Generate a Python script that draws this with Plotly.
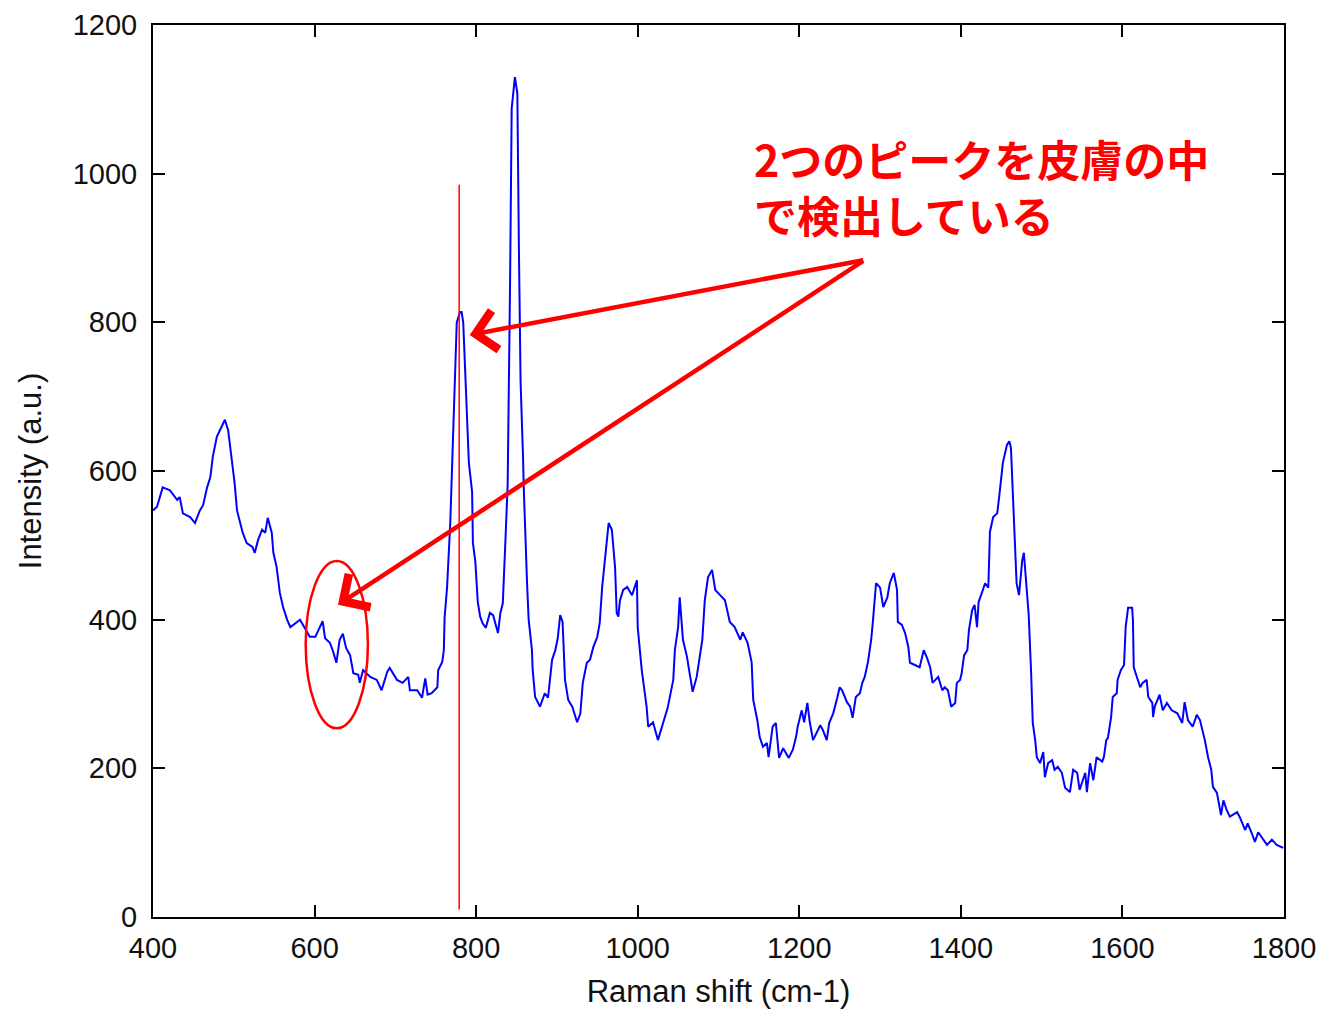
import plotly.graph_objects as go

# Raman spectrum
raman_shift = [400, 405, 412, 421, 430, 433, 437, 446, 452, 458, 462, 467, 471, 474, 479, 485, 489, 493, 498, 501,
               504, 508, 511, 516, 523, 526, 530, 535, 539, 542, 547, 549, 553, 557, 561, 566, 570, 582, 594, 601,
               607, 610, 613, 619, 623, 627, 631, 635, 639, 644, 648, 654, 656, 660, 669, 677, 683, 690, 693, 702,
               709, 716, 718, 727, 733, 737, 740, 745, 752, 753, 758, 760, 761, 764, 768, 770, 771, 774, 776, 780,
               782, 784, 787, 791, 795, 796, 799, 802, 805, 808, 812, 817, 821, 827, 830, 833, 836, 839, 842, 844,
               848, 851, 853, 855, 858, 859, 863, 865, 869, 870, 873, 879, 885, 889, 894, 898, 901, 904, 907, 910,
               914, 919, 925, 929, 932, 937, 941, 945, 950, 953, 956, 959, 962, 964, 968, 972, 974, 976, 978, 982,
               987, 993, 999, 1000, 1005, 1011, 1013, 1019, 1025, 1031, 1037, 1044, 1046, 1050, 1052, 1056, 1061, 1065, 1068, 1073,
               1080, 1083, 1087, 1092, 1096, 1102, 1108, 1114, 1120, 1127, 1130, 1136, 1141, 1143, 1148, 1151, 1155, 1160, 1162, 1167,
               1171, 1175, 1180, 1187, 1192, 1196, 1198, 1203, 1206, 1210, 1213, 1217, 1222, 1226, 1229, 1234, 1237, 1242, 1247, 1250,
               1253, 1259, 1263, 1266, 1270, 1275, 1278, 1281, 1285, 1289, 1291, 1295, 1300, 1304, 1309, 1312, 1317, 1321, 1322, 1327,
               1331, 1335, 1337, 1343, 1349, 1354, 1358, 1362, 1365, 1372, 1377, 1380, 1384, 1388, 1393, 1395, 1399, 1401, 1404, 1408,
               1410, 1414, 1417, 1420, 1422, 1426, 1430, 1434, 1436, 1440, 1445, 1447, 1452, 1457, 1460, 1462, 1465, 1467, 1469, 1472,
               1476, 1478, 1481, 1484, 1487, 1489, 1492, 1494, 1498, 1502, 1504, 1508, 1513, 1516, 1520, 1525, 1529, 1535, 1539, 1544,
               1547, 1554, 1556, 1560, 1564, 1568, 1575, 1577, 1580, 1582, 1586, 1588, 1593, 1594, 1598, 1602, 1604, 1607, 1612, 1613,
               1614, 1618, 1622, 1625, 1630, 1632, 1637, 1638, 1640, 1646, 1650, 1655, 1661, 1668, 1674, 1677, 1681, 1687, 1692, 1696,
               1700, 1702, 1706, 1710, 1712, 1717, 1722, 1725, 1729, 1733, 1742, 1745, 1752, 1755, 1760, 1764, 1768, 1773, 1779, 1785,
               1791, 1799]
intensity = [547, 552, 578, 574, 561, 565, 543, 538, 530, 547, 554, 578, 592, 619, 646, 659, 669, 655, 615, 584,
             547, 530, 517, 503, 498, 490, 507, 521, 517, 537, 517, 490, 471, 436, 417, 400, 390, 400, 377, 377,
             390, 398, 375, 369, 357, 342, 373, 381, 362, 352, 328, 326, 315, 332, 323, 319, 305, 330, 335, 319,
             315, 323, 305, 305, 295, 321, 299, 301, 309, 332, 343, 359, 404, 443, 531, 600, 655, 729, 800, 814,
             814, 800, 716, 611, 572, 503, 478, 424, 404, 395, 389, 409, 406, 382, 409, 422, 500, 581, 853, 1088,
             1130, 1108, 893, 720, 620, 575, 450, 400, 360, 332, 296, 283, 301, 295, 346, 359, 375, 406, 397, 319,
             292, 283, 262, 274, 315, 342, 346, 363, 377, 396, 444, 474, 511, 530, 521, 470, 409, 404, 426, 440,
             444, 433, 453, 390, 332, 283, 256, 262, 238, 261, 281, 319, 359, 390, 430, 373, 350, 323, 303, 323,
             373, 426, 457, 467, 440, 433, 426, 397, 390, 373, 383, 369, 343, 292, 265, 242, 229, 234, 215, 256,
             261, 214, 227, 214, 225, 242, 256, 278, 262, 288, 262, 238, 248, 258, 252, 238, 261, 274, 295, 309,
             305, 289, 283, 268, 296, 301, 315, 323, 343, 373, 396, 449, 443, 417, 430, 449, 463, 440, 397, 393,
             382, 363, 342, 339, 336, 359, 349, 336, 315, 323, 305, 309, 305, 283, 288, 315, 319, 328, 352, 359,
             386, 413, 420, 390, 424, 436, 449, 443, 518, 538, 543, 561, 611, 635, 640, 631, 545, 510, 449, 433,
             480, 490, 443, 406, 328, 261, 238, 215, 207, 222, 188, 207, 211, 198, 202, 194, 174, 168, 198, 194,
             171, 194, 168, 207, 184, 215, 209, 215, 238, 241, 269, 296, 301, 319, 332, 339, 390, 416, 416, 400,
             336, 323, 309, 315, 319, 296, 288, 269, 283, 299, 278, 288, 278, 274, 261, 289, 265, 256, 272, 265,
             248, 238, 215, 198, 175, 167, 137, 157, 144, 135, 141, 135, 117, 126, 113, 101, 114, 106, 97, 104,
             97, 93]

# red marker line at the first peak
marker_x = [779, 779]
marker_y = [10, 985]

# annotation geometry (data units)
arrow_tail = (1281, 884)
arrow_heads = [(792, 783), (629, 420)]
ellipse_x = [589, 666]
ellipse_y = [254, 479]
note_text = "2つのピークを皮膚の中<br>で検出している"
note_x = 1141
note_y = 983

x_ticks = [400, 600, 800, 1000, 1200, 1400, 1600, 1800]
y_ticks = [0, 200, 400, 600, 800, 1000, 1200]

fig = go.Figure()
fig.add_trace(go.Scatter(x=raman_shift, y=intensity, mode="lines",
                         line=dict(color="#0000ff", width=2), showlegend=False))
fig.add_trace(go.Scatter(x=marker_x, y=marker_y, mode="lines",
                         line=dict(color="#ff0000", width=1.5), showlegend=False))

fig.add_shape(type="circle", xref="x", yref="y",
              x0=ellipse_x[0], x1=ellipse_x[1], y0=ellipse_y[0], y1=ellipse_y[1],
              line=dict(color="#ff0000", width=2.5))

for hx, hy in arrow_heads:
    fig.add_annotation(x=hx, y=hy, ax=arrow_tail[0], ay=arrow_tail[1],
                       xref="x", yref="y", axref="x", ayref="y",
                       text="", showarrow=True, arrowhead=4, arrowsize=1.7,
                       arrowwidth=4.5, arrowcolor="#ff0000", standoff=0, startstandoff=0)

fig.add_annotation(x=note_x, y=note_y, xref="x", yref="y", text="<b>" + note_text + "</b>",
                   showarrow=False, xanchor="left", yanchor="middle", align="left",
                   font=dict(family="Noto Sans CJK JP", size=43, color="#ff0000"))

axis_common = dict(showline=True, linecolor="black", linewidth=2, mirror="ticks",
                   ticks="inside", ticklen=12, tickwidth=2, tickcolor="black",
                   showgrid=False, zeroline=False, automargin=False,
                   tickfont=dict(family="Liberation Sans", size=29, color="#111111"))

fig.update_xaxes(range=[400, 1800], tickvals=x_ticks, ticktext=[str(v) for v in x_ticks],
                 ticklabelstandoff=4,
                 title=dict(text="Raman shift (cm-1)", standoff=18,
                            font=dict(family="Liberation Sans", size=31, color="#111111")),
                 **axis_common)
fig.update_yaxes(range=[0, 1200], tickvals=y_ticks, ticktext=[str(v) for v in y_ticks],
                 ticklabelstandoff=8,
                 title=dict(text="Intensity (a.u.)", standoff=22,
                            font=dict(family="Liberation Sans", size=31, color="#111111")),
                 **axis_common)

# page body adds an 8px margin, so the figure is offset accordingly
fig.update_layout(width=1316, height=1002, plot_bgcolor="white", paper_bgcolor="white",
                  margin=dict(l=145, r=40, t=17, b=93))

fig.write_html("out.html")
